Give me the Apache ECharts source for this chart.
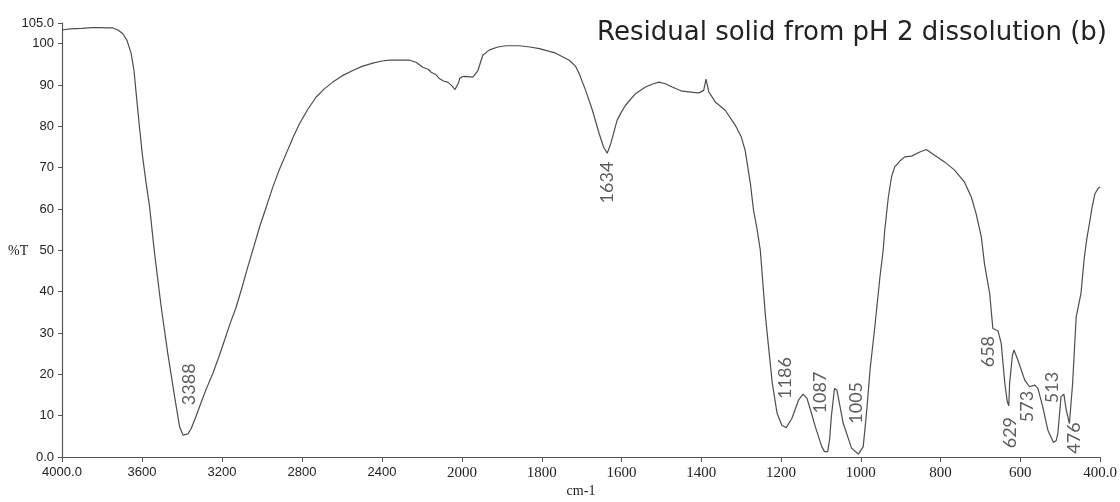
<!DOCTYPE html>
<html><head><meta charset="utf-8">
<script src="https://cdn.jsdelivr.net/npm/echarts@6/dist/echarts.min.js"></script>
<style>html,body{margin:0;padding:0;background:#fff}#c{width:1120px;height:502px}</style>
</head><body><div id="c"></div>
<script>
// Spectrum readings (cm-1, %T)
const wavenumber = [4000,3960,3900,3850,3812,3780,3746,3720,3696,3675,3654,3640,3629,3614,3599,3580,3562,3537,3504,3471,3437,3412,3395,3385,3370,3354,3330,3312,3280,3246,3215,3187,3160,3129,3100,3071,3040,3012,2980,2946,2912,2879,2845,2812,2770,2729,2690,2646,2600,2546,2500,2446,2400,2362,2300,2262,2230,2196,2170,2154,2130,2112,2090,2071,2050,2035,2029,2018,2012,2000,
1994,1973,1960,1948,1931,1910,1890,1856,1830,1806,1765,1731,1715,1706,1690,1673,1656,1645,1636,1627,1611,1600,1590,1565,1540,1520,1506,1490,1473,1448,1420,1406,1394,1390,1388,1385,1381,1365,1340,1315,1300,1290,1277,1269,1260,1252,1239,1222,1210,1198,1187,1173,1156,1145,1135,1125,1114,1098,1091,1083,1078,1074,1066,1060,1044,1023,1006,994,985,977,964,952,944,940,931,923,915,902,890,873,852,836,815,790,765,740,723,711,698,690,677,669,656,648,639,633,629,627,620,616,606,589,577,564,556,544,531,517,510,506,498,491,485,477,469,460,448,440,433,425,420,413,405,400];
const transmittance = [103.3,103.6,103.7,103.9,103.9,103.8,103.8,103.3,102.4,100.8,97.6,93.5,87.9,80.5,73.4,66.5,60.5,49.2,36.3,25.0,14.6,7.3,5.3,4.9,5.6,6.9,9.8,12.2,16.3,20.2,24.3,28.3,32.2,36.3,41.0,46.0,51.0,55.7,60.3,65.3,69.7,73.4,77.3,80.7,84.2,87.1,89.0,90.7,92.2,93.5,94.5,95.3,95.8,96.0,96.0,96.0,95.5,94.3,93.8,93.1,92.5,91.5,90.9,90.7,89.8,88.9,88.6,90.5,91.5,92.0,
92.1,91.9,93.5,97.2,98.5,99.2,99.5,99.5,99.2,98.8,97.7,96.0,94.5,92.7,88.7,83.9,78.2,75.0,73.5,75.8,81.5,83.5,85.1,87.9,89.5,90.3,90.7,90.3,89.5,88.5,88.2,88.1,88.7,90.5,91.4,90.0,88.3,85.9,83.9,80.3,77.5,74.2,66.2,59.7,55.0,50.0,33.9,17.8,10.6,7.7,7.1,9.3,13.8,15.2,14.2,11.0,7.3,2.5,1.3,1.3,4.5,9.7,16.6,16.2,8.1,2.1,0.7,2.5,11.4,21.0,32.3,43.6,50.0,54.9,62.9,67.8,70.2,71.6,72.6,72.8,73.8,74.4,73.0,71.4,69.4,66.5,62.9,58.9,53.3,46.8,39.6,31.1,30.5,27.5,17.8,13.5,12.4,17.8,24.5,25.9,23.4,18.6,17.0,17.4,16.6,12.2,6.5,3.5,4.0,5.7,14.6,15.2,11.4,8.1,17.8,33.9,39.6,48.0,53.0,57.5,60.5,63.7,65.0,65.3];

// Peak annotations: text and where the rotated label sits (cm-1, %T)
const peakText = ['3388','1634','1186','1087','1005','658','629','573','513','476'];
const peakLabelNu = [3362,1636,1189,1101,1011,681,626,584,521,464];
const peakLabelT = [17.6,66.4,19.1,15.6,13.1,25.5,5.9,12.2,16.8,4.6];

const xTicksHigh = [4000,3600,3200,2800,2400];
const xTicksLow = [2000,1800,1600,1400,1200,1000,800,600,400];
const yTicks = [0,10,20,30,40,50,60,70,80,90,100,105];

const titleText = 'Residual solid from pH 2 dissolution (b)';
const xName = 'cm-1';
const yName = '%T';

const pts = wavenumber.map((v,i)=>[v, transmittance[i]]);
const highPts = pts.filter(p=>p[0]>=2000);
const lowPts = pts.filter(p=>p[0]<=2000);
const lbl = peakText.map((t,i)=>({value:[peakLabelNu[i], peakLabelT[i]], name:t}));
const lblHigh = lbl.filter(d=>d.value[0]>=2000);
const lblLow = lbl.filter(d=>d.value[0]<2000);

const axisCol = '#555';
const lineCol = '#4d4d4d';

const labelSeries = (data, idx) => ({
  type:'scatter', xAxisIndex:idx, yAxisIndex:idx, data, symbolSize:1, silent:true,
  itemStyle:{color:'rgba(0,0,0,0)'},
  label:{show:true, position:'inside', rotate:90, align:'center', verticalAlign:'middle',
    formatter:p=>p.name, fontFamily:'Lato', fontSize:18, color:'#333'},
  emphasis:{disabled:true}, z:5
});

const chart = echarts.init(document.getElementById('c'), null, {renderer:'canvas'});
chart.setOption({
  animation:false,
  backgroundColor:'#fff',
  grid:[{left:62, top:23, width:400, bottom:45}, {left:462, top:23, width:640, bottom:45}],
  xAxis:[
    {gridIndex:0, type:'value', min:2000, max:4000, inverse:true,
     axisLine:{lineStyle:{color:axisCol, width:1.2}},
     axisTick:{customValues:xTicksHigh, length:5, lineStyle:{color:axisCol}},
     axisLabel:{customValues:xTicksHigh, formatter:v=> v===4000 ? '4000.0' : String(v),
       fontFamily:'Liberation Sans', fontSize:13, color:'#222', margin:9},
     splitLine:{show:false}},
    {gridIndex:1, type:'value', min:400, max:2000, inverse:true,
     axisLine:{lineStyle:{color:axisCol, width:1.2}},
     axisTick:{customValues:xTicksLow, length:5, lineStyle:{color:axisCol}},
     axisLabel:{customValues:xTicksLow, formatter:v=> v===400 ? '400.0' : String(v),
       fontFamily:'Liberation Serif', fontSize:15, color:'#222', margin:9},
     splitLine:{show:false}}
  ],
  yAxis:[
    {gridIndex:0, type:'value', min:0, max:105,
     axisLine:{show:true, lineStyle:{color:axisCol, width:1.2}},
     axisTick:{show:true, customValues:yTicks, length:4, lineStyle:{color:axisCol}},
     axisLabel:{customValues:yTicks, formatter:v=> v===0 ? '0.0' : (v===105 ? '105.0' : String(v)),
       fontFamily:'Liberation Sans', fontSize:13, color:'#222', margin:8},
     splitLine:{show:false}},
    {gridIndex:1, type:'value', min:0, max:105, show:false}
  ],
  series:[
    {type:'line', xAxisIndex:0, yAxisIndex:0, data:highPts, symbol:'none', lineStyle:{color:lineCol, width:1.2}, silent:true},
    {type:'line', xAxisIndex:1, yAxisIndex:1, data:lowPts, symbol:'none', lineStyle:{color:lineCol, width:1.2}, silent:true},
    labelSeries(lblHigh, 0),
    labelSeries(lblLow, 1)
  ],
  graphic:[
    {type:'text', x:1107, y:20, style:{text:titleText, textAlign:'right', textVerticalAlign:'top', font:'26px "DejaVu Sans"', fill:'#222'}},
    {type:'text', x:581, y:484, style:{text:xName, textAlign:'center', textVerticalAlign:'top', font:'14px "Liberation Serif"', fill:'#222'}},
    {type:'text', x:8, y:251, style:{text:yName, textAlign:'left', textVerticalAlign:'middle', font:'14px "Liberation Serif"', fill:'#222'}}
  ]
});
</script>
</body></html>
